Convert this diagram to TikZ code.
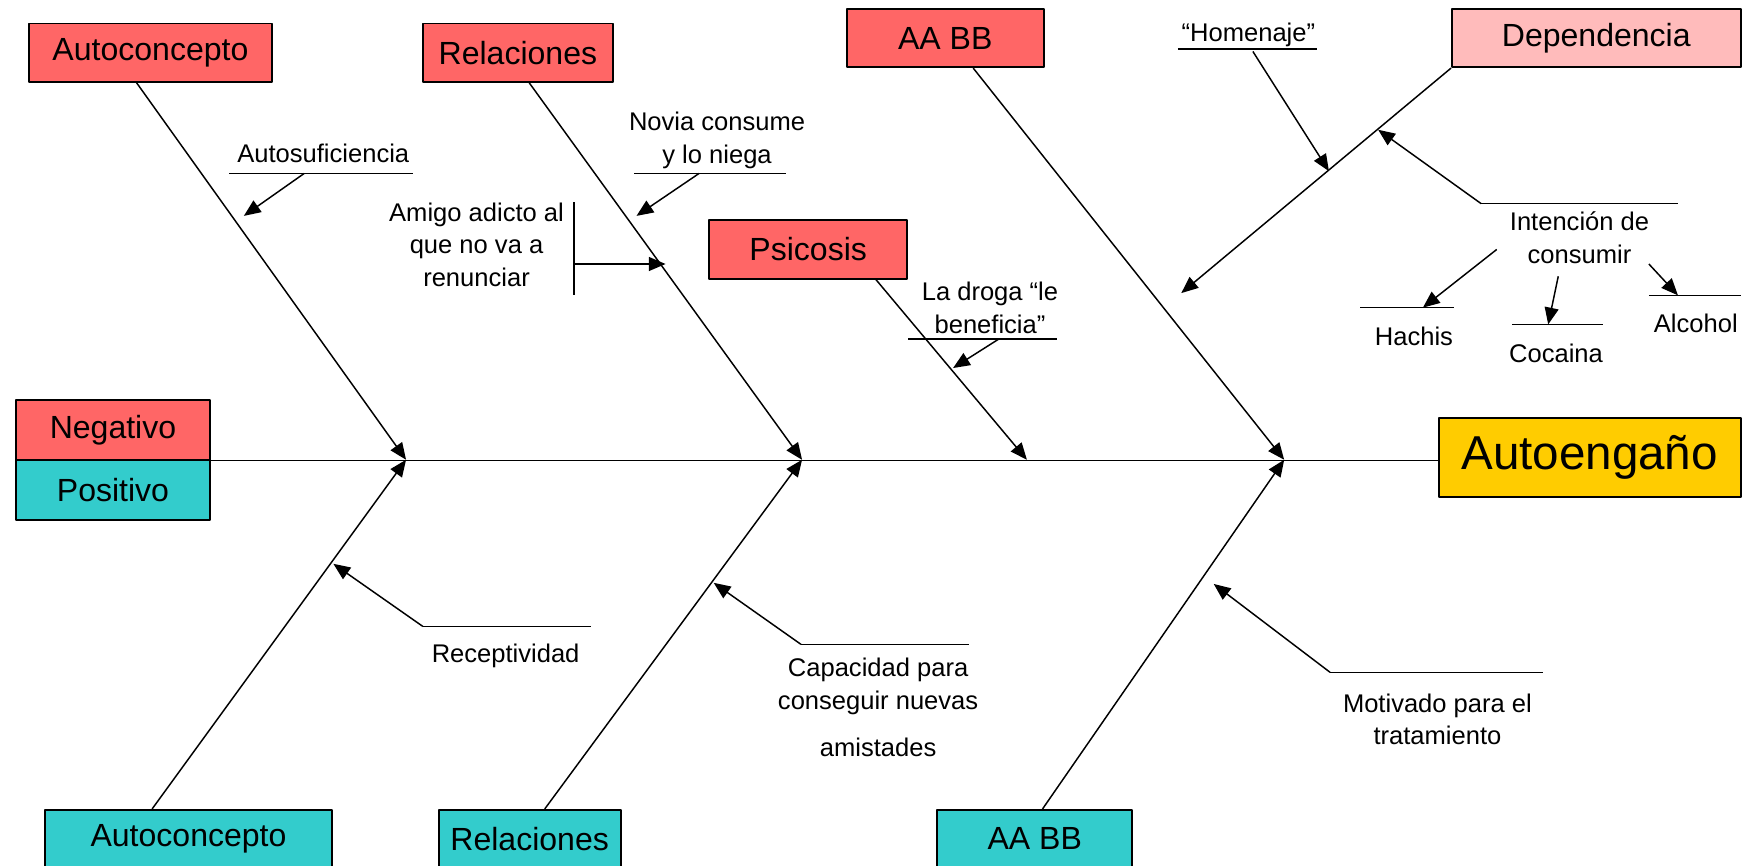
\documentclass[tikz,border=0pt]{standalone}
\usepackage{fontspec}
\setmainfont{Liberation Sans}
\usetikzlibrary{arrows.meta}
\definecolor{rojo}{HTML}{FF6666}
\definecolor{rosa}{HTML}{FFBBBB}
\definecolor{turq}{HTML}{33CCCC}
\definecolor{oro}{HTML}{FFCC00}
\tikzset{
  causa/.style={draw=black, line width=1pt, minimum height=1.04cm, inner sep=0pt,
    font=\fontsize{16.3}{19}\selectfont},
  lbl/.style={font=\fontsize{13}{16.5}\selectfont, align=center, inner sep=0pt, anchor=north},
  espina/.style={line width=0.75pt},
  flecha/.style={line width=0.75pt, -{Triangle[length=0.3cm,width=0.25cm]}},
}

\begin{document}
\begin{tikzpicture}[x=0.02cm, y=-0.02cm, line join=round]
\useasboundingbox (0,0) rectangle (1568,774);

% cajas de causas
\node[causa, fill=rojo, minimum width=4.34cm] (autoN) at (134.5,47) {Autoconcepto};
\node[causa, fill=rojo, minimum width=3.4cm] (relN) at (463,47) {Relaciones};
\node[causa, fill=rojo, minimum width=3.52cm] (aabbN) at (845,34) {AA BB};
\node[causa, fill=rosa, minimum width=5.16cm] (dep) at (1427,34) {Dependencia};
\node[causa, fill=rojo, minimum width=3.54cm] (psic) at (722.5,223) {Psicosis};
\node[causa, fill=rojo, minimum width=3.48cm, minimum height=1.06cm] (neg) at (101,384.5) {Negativo};
\node[causa, fill=turq, minimum width=3.48cm, minimum height=1.06cm] (pos) at (101,438) {Positivo};
\node[causa, fill=turq, minimum width=5.14cm] (autoP) at (168.5,750) {Autoconcepto};
\node[causa, fill=turq, minimum width=3.26cm] (relP) at (473.5,750) {Relaciones};
\node[causa, fill=turq, minimum width=3.48cm] (aabbP) at (925,750) {AA BB};
\node[causa, fill=oro, minimum width=5.4cm, minimum height=1.4cm,
  font=\fontsize{24.2}{28}\selectfont] (efecto) at (1421,409) {Autoengaño};

% espina central
\coordinate (j1) at (363,411);
\coordinate (j2) at (717,411);
\coordinate (j3) at (918,411);
\coordinate (j4) at (1148,411);
\draw[espina] (neg.south east) -- (efecto.west |- neg.south east);

\draw[flecha] ([xshift=-0.25cm]autoN.south) -- (j1);
\draw[flecha] ([xshift=0.2cm]relN.south) -- (j2);
\draw[flecha] ([xshift=0.5cm]aabbN.south) -- (j4);
\draw[flecha] ([xshift=1.21cm]psic.south) -- (j3);
\draw[flecha] ([xshift=-0.65cm]autoP.north) -- (j1);
\draw[flecha] ([xshift=0.27cm]relP.north) -- (j2);
\draw[flecha] ([xshift=0.14cm]aabbP.north) -- (j4);
\coordinate (d0) at (1056,262);
\draw[flecha] (dep.south west) -- (d0);

% textos
\node[lbl] (autos) at (289,128) {Autosuficiencia};
\node[lbl] (novia) at (641,100) {Novia consume\\y lo niega};
\node[lbl] (amigo) at (426,181) {Amigo adicto al\\que no va a\\renunciar};
\node[lbl] (droga) at (885,252) {La droga “le\\beneficia”};
\node[lbl] (homen) at (1116,20) {“Homenaje”};
\node[lbl] (inten) at (1412,189) {Intención de\\consumir};
\node[lbl] (hach) at (1264,292) {Hachis};
\node[lbl] (coca) at (1391,307) {Cocaina};
\node[lbl] (alco) at (1516,280) {Alcohol};
\node[lbl] (recep) at (452,575) {Receptividad};
\node[lbl] (capac) at (785,588) {Capacidad para\\conseguir nuevas\\[0.26cm]amistades};
\node[lbl] (motiv) at (1285,620) {Motivado para el\\tratamiento};

% subrayados
\foreach \a/\b/\c in {205/369/155, 567/703/155, 812/945/303, 1053/1177/44, 1324/1500/182,
  1216/1300/275, 1352/1433/290, 1474/1556/264, 378/528/560, 716/866/576, 1189/1379/601}
  \draw[espina] (\a,\c) -- (\b,\c);
\draw[espina] (513,181) -- (513,264);

% flechas secundarias
\foreach \n/\xa/\ya/\xb/\yb in {s1/272/155/218/193, s2/625/155/569/193, s3/513/236/595/236,
  s4/893/303/852/329, s5/1120/46/1188/153, s6/1324/182/1232/116, s7/1338/223/1272/275,
  s8/1393/247/1384/290, s9/1474/236/1500/264, s10/378/560/298/504,
  s11/716/576/638/521, s12/1189/601/1085/522}{
  \coordinate (\n a) at (\xa,\ya);
  \coordinate (\n b) at (\xb,\yb);
  \draw[flecha] (\n a) -- (\n b);
}
\end{tikzpicture}
\end{document}
